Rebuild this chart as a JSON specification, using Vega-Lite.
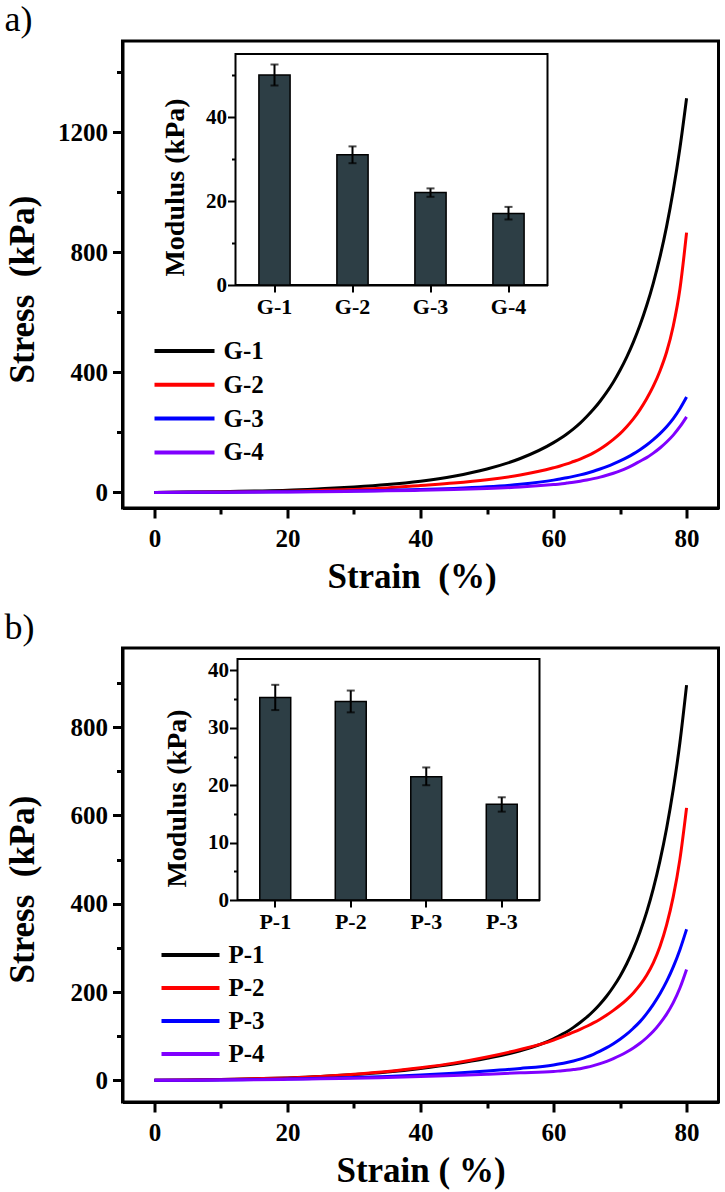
{
  "$schema": "https://vega.github.io/schema/vega-lite/v6.json",
  "background": "white",
  "padding": {"left": 2.5, "top": 0, "right": 0, "bottom": 0},
  "spacing": 12,
  "resolve": {"scale": {"color": "independent"}, "legend": {"color": "independent"}},
  "config": {
    "view": {"stroke": "black", "strokeWidth": 3},
    "axis": {"grid": false, "domainColor": "black", "domainWidth": 3, "tickColor": "black", "tickWidth": 3, "labelColor": "black", "titleColor": "black", "labelFont": "Liberation Serif", "titleFont": "Liberation Serif", "labelFontWeight": "bold", "titleFontWeight": "bold"},
    "legend": {"labelFont": "Liberation Serif", "labelFontWeight": "bold", "labelColor": "black"},
    "title": {"font": "Liberation Serif", "fontWeight": "normal", "color": "black", "fontSize": 36, "anchor": "start", "frame": "bounds"}
  },
  "datasets": {
    "curvesA": [
      {"sample": "G-1", "strain": 0, "stress": 0}, {"sample": "G-1", "strain": 5, "stress": 1}, {"sample": "G-1", "strain": 10, "stress": 2.5}, {"sample": "G-1", "strain": 15, "stress": 4.5}, {"sample": "G-1", "strain": 20, "stress": 7}, {"sample": "G-1", "strain": 25, "stress": 12}, {"sample": "G-1", "strain": 30, "stress": 18}, {"sample": "G-1", "strain": 35, "stress": 26}, {"sample": "G-1", "strain": 40, "stress": 37.5}, {"sample": "G-1", "strain": 45, "stress": 54}, {"sample": "G-1", "strain": 50, "stress": 78}, {"sample": "G-1", "strain": 55, "stress": 113}, {"sample": "G-1", "strain": 60, "stress": 166}, {"sample": "G-1", "strain": 61, "stress": 180}, {"sample": "G-1", "strain": 62, "stress": 195}, {"sample": "G-1", "strain": 63, "stress": 212}, {"sample": "G-1", "strain": 64, "stress": 231}, {"sample": "G-1", "strain": 65, "stress": 253}, {"sample": "G-1", "strain": 66, "stress": 277}, {"sample": "G-1", "strain": 67, "stress": 304}, {"sample": "G-1", "strain": 68, "stress": 334}, {"sample": "G-1", "strain": 69, "stress": 368}, {"sample": "G-1", "strain": 70, "stress": 407}, {"sample": "G-1", "strain": 71, "stress": 451}, {"sample": "G-1", "strain": 72, "stress": 501}, {"sample": "G-1", "strain": 73, "stress": 558}, {"sample": "G-1", "strain": 74, "stress": 623}, {"sample": "G-1", "strain": 75, "stress": 698}, {"sample": "G-1", "strain": 76, "stress": 785}, {"sample": "G-1", "strain": 77, "stress": 887}, {"sample": "G-1", "strain": 78, "stress": 1007}, {"sample": "G-1", "strain": 79, "stress": 1148}, {"sample": "G-1", "strain": 80, "stress": 1314},
      {"sample": "G-2", "strain": 0, "stress": 0}, {"sample": "G-2", "strain": 5, "stress": 0.5}, {"sample": "G-2", "strain": 10, "stress": 1.3}, {"sample": "G-2", "strain": 15, "stress": 2.5}, {"sample": "G-2", "strain": 20, "stress": 4}, {"sample": "G-2", "strain": 25, "stress": 6.5}, {"sample": "G-2", "strain": 30, "stress": 10}, {"sample": "G-2", "strain": 35, "stress": 15}, {"sample": "G-2", "strain": 40, "stress": 23}, {"sample": "G-2", "strain": 45, "stress": 31}, {"sample": "G-2", "strain": 50, "stress": 42}, {"sample": "G-2", "strain": 55, "stress": 58}, {"sample": "G-2", "strain": 60, "stress": 82}, {"sample": "G-2", "strain": 61, "stress": 88}, {"sample": "G-2", "strain": 62, "stress": 95}, {"sample": "G-2", "strain": 63, "stress": 103}, {"sample": "G-2", "strain": 64, "stress": 111}, {"sample": "G-2", "strain": 65, "stress": 121}, {"sample": "G-2", "strain": 66, "stress": 132}, {"sample": "G-2", "strain": 67, "stress": 145}, {"sample": "G-2", "strain": 68, "stress": 160}, {"sample": "G-2", "strain": 69, "stress": 177}, {"sample": "G-2", "strain": 70, "stress": 196}, {"sample": "G-2", "strain": 71, "stress": 219}, {"sample": "G-2", "strain": 72, "stress": 245}, {"sample": "G-2", "strain": 73, "stress": 276}, {"sample": "G-2", "strain": 74, "stress": 312}, {"sample": "G-2", "strain": 75, "stress": 354}, {"sample": "G-2", "strain": 76, "stress": 405}, {"sample": "G-2", "strain": 77, "stress": 468}, {"sample": "G-2", "strain": 78, "stress": 555}, {"sample": "G-2", "strain": 79, "stress": 678}, {"sample": "G-2", "strain": 80, "stress": 866},
      {"sample": "G-3", "strain": 0, "stress": 0}, {"sample": "G-3", "strain": 5, "stress": 0.3}, {"sample": "G-3", "strain": 10, "stress": 0.8}, {"sample": "G-3", "strain": 15, "stress": 1.4}, {"sample": "G-3", "strain": 20, "stress": 2.2}, {"sample": "G-3", "strain": 25, "stress": 3.3}, {"sample": "G-3", "strain": 30, "stress": 4.8}, {"sample": "G-3", "strain": 35, "stress": 6.8}, {"sample": "G-3", "strain": 40, "stress": 9.5}, {"sample": "G-3", "strain": 45, "stress": 13}, {"sample": "G-3", "strain": 50, "stress": 18.5}, {"sample": "G-3", "strain": 55, "stress": 27}, {"sample": "G-3", "strain": 60, "stress": 41}, {"sample": "G-3", "strain": 61, "stress": 45}, {"sample": "G-3", "strain": 62, "stress": 49}, {"sample": "G-3", "strain": 63, "stress": 53.5}, {"sample": "G-3", "strain": 64, "stress": 58.5}, {"sample": "G-3", "strain": 65, "stress": 64}, {"sample": "G-3", "strain": 66, "stress": 70.5}, {"sample": "G-3", "strain": 67, "stress": 78}, {"sample": "G-3", "strain": 68, "stress": 86}, {"sample": "G-3", "strain": 69, "stress": 95}, {"sample": "G-3", "strain": 70, "stress": 105}, {"sample": "G-3", "strain": 71, "stress": 116}, {"sample": "G-3", "strain": 72, "stress": 128.5}, {"sample": "G-3", "strain": 73, "stress": 142.5}, {"sample": "G-3", "strain": 74, "stress": 158}, {"sample": "G-3", "strain": 75, "stress": 176}, {"sample": "G-3", "strain": 76, "stress": 196}, {"sample": "G-3", "strain": 77, "stress": 219}, {"sample": "G-3", "strain": 78, "stress": 246}, {"sample": "G-3", "strain": 79, "stress": 279}, {"sample": "G-3", "strain": 80, "stress": 318},
      {"sample": "G-4", "strain": 0, "stress": 0}, {"sample": "G-4", "strain": 5, "stress": 0.2}, {"sample": "G-4", "strain": 10, "stress": 0.5}, {"sample": "G-4", "strain": 15, "stress": 1}, {"sample": "G-4", "strain": 20, "stress": 1.6}, {"sample": "G-4", "strain": 25, "stress": 2.5}, {"sample": "G-4", "strain": 30, "stress": 3.6}, {"sample": "G-4", "strain": 35, "stress": 5.1}, {"sample": "G-4", "strain": 40, "stress": 7}, {"sample": "G-4", "strain": 45, "stress": 9.5}, {"sample": "G-4", "strain": 50, "stress": 13}, {"sample": "G-4", "strain": 55, "stress": 18}, {"sample": "G-4", "strain": 60, "stress": 26}, {"sample": "G-4", "strain": 61, "stress": 28}, {"sample": "G-4", "strain": 62, "stress": 31}, {"sample": "G-4", "strain": 63, "stress": 34}, {"sample": "G-4", "strain": 64, "stress": 37.5}, {"sample": "G-4", "strain": 65, "stress": 41.5}, {"sample": "G-4", "strain": 66, "stress": 46}, {"sample": "G-4", "strain": 67, "stress": 51}, {"sample": "G-4", "strain": 68, "stress": 57}, {"sample": "G-4", "strain": 69, "stress": 64}, {"sample": "G-4", "strain": 70, "stress": 72}, {"sample": "G-4", "strain": 71, "stress": 81}, {"sample": "G-4", "strain": 72, "stress": 92}, {"sample": "G-4", "strain": 73, "stress": 104}, {"sample": "G-4", "strain": 74, "stress": 116}, {"sample": "G-4", "strain": 75, "stress": 131}, {"sample": "G-4", "strain": 76, "stress": 148}, {"sample": "G-4", "strain": 77, "stress": 168}, {"sample": "G-4", "strain": 78, "stress": 191}, {"sample": "G-4", "strain": 79, "stress": 219}, {"sample": "G-4", "strain": 80, "stress": 252}
    ],
    "curvesB": [
      {"sample": "P-1", "strain": 0, "stress": 0}, {"sample": "P-1", "strain": 5, "stress": 0.9}, {"sample": "P-1", "strain": 10, "stress": 2}, {"sample": "P-1", "strain": 15, "stress": 3.5}, {"sample": "P-1", "strain": 20, "stress": 5.5}, {"sample": "P-1", "strain": 25, "stress": 8.5}, {"sample": "P-1", "strain": 30, "stress": 13}, {"sample": "P-1", "strain": 35, "stress": 19}, {"sample": "P-1", "strain": 40, "stress": 27}, {"sample": "P-1", "strain": 45, "stress": 37}, {"sample": "P-1", "strain": 50, "stress": 50}, {"sample": "P-1", "strain": 55, "stress": 67}, {"sample": "P-1", "strain": 60, "stress": 94}, {"sample": "P-1", "strain": 61, "stress": 102}, {"sample": "P-1", "strain": 62, "stress": 110}, {"sample": "P-1", "strain": 63, "stress": 120}, {"sample": "P-1", "strain": 64, "stress": 131}, {"sample": "P-1", "strain": 65, "stress": 143}, {"sample": "P-1", "strain": 66, "stress": 157}, {"sample": "P-1", "strain": 67, "stress": 173}, {"sample": "P-1", "strain": 68, "stress": 191}, {"sample": "P-1", "strain": 69, "stress": 212}, {"sample": "P-1", "strain": 70, "stress": 236}, {"sample": "P-1", "strain": 71, "stress": 264}, {"sample": "P-1", "strain": 72, "stress": 297}, {"sample": "P-1", "strain": 73, "stress": 336}, {"sample": "P-1", "strain": 74, "stress": 381}, {"sample": "P-1", "strain": 75, "stress": 434}, {"sample": "P-1", "strain": 76, "stress": 497}, {"sample": "P-1", "strain": 77, "stress": 571}, {"sample": "P-1", "strain": 78, "stress": 659}, {"sample": "P-1", "strain": 79, "stress": 765}, {"sample": "P-1", "strain": 80, "stress": 895},
      {"sample": "P-2", "strain": 0, "stress": 0}, {"sample": "P-2", "strain": 5, "stress": 0.9}, {"sample": "P-2", "strain": 10, "stress": 2}, {"sample": "P-2", "strain": 15, "stress": 3.5}, {"sample": "P-2", "strain": 20, "stress": 5.6}, {"sample": "P-2", "strain": 25, "stress": 9}, {"sample": "P-2", "strain": 30, "stress": 14}, {"sample": "P-2", "strain": 35, "stress": 20}, {"sample": "P-2", "strain": 40, "stress": 28.5}, {"sample": "P-2", "strain": 45, "stress": 39}, {"sample": "P-2", "strain": 50, "stress": 53}, {"sample": "P-2", "strain": 55, "stress": 70}, {"sample": "P-2", "strain": 60, "stress": 91}, {"sample": "P-2", "strain": 61, "stress": 97}, {"sample": "P-2", "strain": 62, "stress": 103}, {"sample": "P-2", "strain": 63, "stress": 109}, {"sample": "P-2", "strain": 64, "stress": 115.5}, {"sample": "P-2", "strain": 65, "stress": 122.5}, {"sample": "P-2", "strain": 66, "stress": 130}, {"sample": "P-2", "strain": 67, "stress": 138.5}, {"sample": "P-2", "strain": 68, "stress": 148}, {"sample": "P-2", "strain": 69, "stress": 158.5}, {"sample": "P-2", "strain": 70, "stress": 170}, {"sample": "P-2", "strain": 71, "stress": 183}, {"sample": "P-2", "strain": 72, "stress": 198}, {"sample": "P-2", "strain": 73, "stress": 216}, {"sample": "P-2", "strain": 74, "stress": 238}, {"sample": "P-2", "strain": 75, "stress": 266}, {"sample": "P-2", "strain": 76, "stress": 303}, {"sample": "P-2", "strain": 77, "stress": 352}, {"sample": "P-2", "strain": 78, "stress": 416}, {"sample": "P-2", "strain": 79, "stress": 501}, {"sample": "P-2", "strain": 80, "stress": 617},
      {"sample": "P-3", "strain": 0, "stress": 0}, {"sample": "P-3", "strain": 5, "stress": 0.4}, {"sample": "P-3", "strain": 10, "stress": 1}, {"sample": "P-3", "strain": 15, "stress": 1.8}, {"sample": "P-3", "strain": 20, "stress": 3}, {"sample": "P-3", "strain": 25, "stress": 4.5}, {"sample": "P-3", "strain": 30, "stress": 6.5}, {"sample": "P-3", "strain": 35, "stress": 9}, {"sample": "P-3", "strain": 40, "stress": 12}, {"sample": "P-3", "strain": 45, "stress": 16}, {"sample": "P-3", "strain": 50, "stress": 21}, {"sample": "P-3", "strain": 55, "stress": 27}, {"sample": "P-3", "strain": 60, "stress": 35}, {"sample": "P-3", "strain": 61, "stress": 37.5}, {"sample": "P-3", "strain": 62, "stress": 40.5}, {"sample": "P-3", "strain": 63, "stress": 44}, {"sample": "P-3", "strain": 64, "stress": 48}, {"sample": "P-3", "strain": 65, "stress": 53}, {"sample": "P-3", "strain": 66, "stress": 59}, {"sample": "P-3", "strain": 67, "stress": 66}, {"sample": "P-3", "strain": 68, "stress": 74}, {"sample": "P-3", "strain": 69, "stress": 83}, {"sample": "P-3", "strain": 70, "stress": 93}, {"sample": "P-3", "strain": 71, "stress": 104.5}, {"sample": "P-3", "strain": 72, "stress": 118}, {"sample": "P-3", "strain": 73, "stress": 133}, {"sample": "P-3", "strain": 74, "stress": 151}, {"sample": "P-3", "strain": 75, "stress": 172}, {"sample": "P-3", "strain": 76, "stress": 196}, {"sample": "P-3", "strain": 77, "stress": 224}, {"sample": "P-3", "strain": 78, "stress": 257}, {"sample": "P-3", "strain": 79, "stress": 296}, {"sample": "P-3", "strain": 80, "stress": 342},
      {"sample": "P-4", "strain": 0, "stress": 0}, {"sample": "P-4", "strain": 5, "stress": 0.3}, {"sample": "P-4", "strain": 10, "stress": 0.8}, {"sample": "P-4", "strain": 15, "stress": 1.4}, {"sample": "P-4", "strain": 20, "stress": 2.3}, {"sample": "P-4", "strain": 25, "stress": 3.4}, {"sample": "P-4", "strain": 30, "stress": 4.8}, {"sample": "P-4", "strain": 35, "stress": 6.5}, {"sample": "P-4", "strain": 40, "stress": 8.5}, {"sample": "P-4", "strain": 45, "stress": 11}, {"sample": "P-4", "strain": 50, "stress": 14}, {"sample": "P-4", "strain": 55, "stress": 17}, {"sample": "P-4", "strain": 60, "stress": 20}, {"sample": "P-4", "strain": 61, "stress": 21.4}, {"sample": "P-4", "strain": 62, "stress": 22.8}, {"sample": "P-4", "strain": 63, "stress": 24.5}, {"sample": "P-4", "strain": 64, "stress": 26.5}, {"sample": "P-4", "strain": 65, "stress": 29.5}, {"sample": "P-4", "strain": 66, "stress": 33.3}, {"sample": "P-4", "strain": 67, "stress": 37.8}, {"sample": "P-4", "strain": 68, "stress": 43}, {"sample": "P-4", "strain": 69, "stress": 49.4}, {"sample": "P-4", "strain": 70, "stress": 56.3}, {"sample": "P-4", "strain": 71, "stress": 64.2}, {"sample": "P-4", "strain": 72, "stress": 73.4}, {"sample": "P-4", "strain": 73, "stress": 84}, {"sample": "P-4", "strain": 74, "stress": 96.5}, {"sample": "P-4", "strain": 75, "stress": 111}, {"sample": "P-4", "strain": 76, "stress": 129}, {"sample": "P-4", "strain": 77, "stress": 150}, {"sample": "P-4", "strain": 78, "stress": 176}, {"sample": "P-4", "strain": 79, "stress": 209}, {"sample": "P-4", "strain": 80, "stress": 251}
    ],
    "modA": [
      {"sample": "G-1", "modulus": 50, "lo": 47.5, "hi": 52.5},
      {"sample": "G-2", "modulus": 31, "lo": 29, "hi": 33},
      {"sample": "G-3", "modulus": 22, "lo": 21, "hi": 23},
      {"sample": "G-4", "modulus": 17, "lo": 15.6, "hi": 18.6}
    ],
    "modB": [
      {"sample": "P-1", "modulus": 35.3, "lo": 33.1, "hi": 37.5},
      {"sample": "P-2", "modulus": 34.6, "lo": 32.7, "hi": 36.5},
      {"sample": "P-3", "modulus": 21.5, "lo": 20, "hi": 23.1},
      {"sample": "P-4", "modulus": 16.7, "lo": 15.4, "hi": 17.9}
    ]
  },
  "vconcat": [
    {
      "title": {"text": "a)", "offset": 2, "dx": -1},
      "width": 596,
      "height": 467,
      "resolve": {"scale": {"x": "independent", "y": "independent"}},
      "layer": [
        {
          "data": {"name": "curvesA"},
          "mark": {"type": "line", "strokeWidth": 3, "interpolate": "monotone"},
          "encoding": {
            "x": {"field": "strain", "type": "quantitative", "scale": {"domain": [-4.8, 84.8], "nice": false, "zero": false},
              "axis": {"orient": "bottom", "values": [0, 10, 20, 30, 40, 50, 60, 70, 80], "labelExpr": "datum.value % 20 === 0 ? datum.label : ''", "tickSize": {"condition": {"test": "datum.value % 20 === 0", "value": 10}, "value": 6}, "labelFontSize": 25, "labelPadding": 8, "title": "Strain \u00a0(%)", "titleFontSize": 35, "titlePadding": 8, "titleX": 289}},
            "y": {"field": "stress", "type": "quantitative", "scale": {"domain": [-52, 1505], "nice": false, "zero": false},
              "axis": {"orient": "left", "values": [0, 200, 400, 600, 800, 1000, 1200, 1400], "format": "d", "labelExpr": "datum.value % 400 === 0 ? datum.label : ''", "tickSize": {"condition": {"test": "datum.value % 400 === 0", "value": 10}, "value": 6}, "labelFontSize": 25, "labelPadding": 5, "title": "Stress \u00a0(kPa)", "titleFontSize": 35, "titleX": -82, "titleY": 248}},
            "color": {"field": "sample", "type": "nominal", "scale": {"domain": ["G-1", "G-2", "G-3", "G-4"], "range": ["#000000", "#ff0000", "#0000ff", "#8000ff"]},
              "legend": {"orient": "none", "legendX": 30, "legendY": 298, "title": null, "symbolType": "stroke", "symbolSize": 3600, "symbolStrokeWidth": 4, "labelFontSize": 25, "labelOffset": 7, "clipHeight": 24, "rowPadding": 8.8, "padding": 0}}
          }
        },
        {
          "data": {"values": [{}]},
          "mark": {"type": "rect", "fill": "white", "stroke": "black", "strokeWidth": 2},
          "encoding": {
            "x": {"datum": 0, "type": "quantitative", "scale": {"domain": [0, 1], "range": [113, 425], "nice": false}, "axis": null},
            "x2": {"datum": 1},
            "y": {"datum": 0, "type": "quantitative", "scale": {"domain": [0, 1], "range": [244, 13], "nice": false}, "axis": null},
            "y2": {"datum": 1}
          }
        },
        {
          "data": {"name": "modA"},
          "layer": [
            {
              "mark": {"type": "bar", "fill": "#2d3e45", "stroke": "black", "strokeWidth": 1.5, "width": {"band": 0.4}},
              "encoding": {
                "x": {"field": "sample", "type": "nominal", "scale": {"type": "band", "range": [113, 425], "paddingInner": 0, "paddingOuter": 0},
                  "axis": {"orient": "bottom", "offset": -223, "title": null, "labelAngle": 0, "labelFontSize": 22, "labelPadding": 4, "tickSize": 7, "tickWidth": 2, "domainWidth": 2}},
                "y": {"field": "modulus", "type": "quantitative", "scale": {"domain": [0, 55], "range": [244, 13], "nice": false},
                  "axis": {"orient": "left", "offset": -113, "values": [0, 10, 20, 30, 40, 50], "labelExpr": "datum.value % 20 === 0 ? datum.label : ''", "tickSize": {"condition": {"test": "datum.value % 20 === 0", "value": 8}, "value": 4}, "tickWidth": 2, "domainWidth": 2, "labelFontSize": 21, "labelPadding": 1, "title": "Modulus (kPa)", "titleFontSize": 28, "titlePadding": 16, "titleY": 146}}
              }
            },
            {
              "mark": {"type": "rule", "strokeWidth": 2, "color": "black"},
              "encoding": {
                "x": {"field": "sample", "type": "nominal", "scale": {"type": "band", "range": [113, 425], "paddingInner": 0, "paddingOuter": 0}},
                "y": {"field": "lo", "type": "quantitative", "scale": {"domain": [0, 55], "range": [244, 13], "nice": false}},
                "y2": {"field": "hi"}
              }
            },
            {
              "mark": {"type": "tick", "size": 8, "thickness": 2, "color": "black"},
              "encoding": {
                "x": {"field": "sample", "type": "nominal", "scale": {"type": "band", "range": [113, 425], "paddingInner": 0, "paddingOuter": 0}},
                "y": {"field": "lo", "type": "quantitative", "scale": {"domain": [0, 55], "range": [244, 13], "nice": false}}
              }
            },
            {
              "mark": {"type": "tick", "size": 8, "thickness": 2, "color": "black"},
              "encoding": {
                "x": {"field": "sample", "type": "nominal", "scale": {"type": "band", "range": [113, 425], "paddingInner": 0, "paddingOuter": 0}},
                "y": {"field": "hi", "type": "quantitative", "scale": {"domain": [0, 55], "range": [244, 13], "nice": false}}
              }
            }
          ]
        }
      ]
    },
    {
      "title": {"text": "b)", "offset": 1, "dx": -1},
      "width": 596,
      "height": 454,
      "resolve": {"scale": {"x": "independent", "y": "independent"}},
      "layer": [
        {
          "data": {"name": "curvesB"},
          "mark": {"type": "line", "strokeWidth": 3, "interpolate": "monotone"},
          "encoding": {
            "x": {"field": "strain", "type": "quantitative", "scale": {"domain": [-4.8, 84.8], "nice": false, "zero": false},
              "axis": {"orient": "bottom", "values": [0, 10, 20, 30, 40, 50, 60, 70, 80], "labelExpr": "datum.value % 20 === 0 ? datum.label : ''", "tickSize": {"condition": {"test": "datum.value % 20 === 0", "value": 10}, "value": 6}, "labelFontSize": 25, "labelPadding": 8, "title": "Strain ( %)", "titleFontSize": 35, "titlePadding": 8}},
            "y": {"field": "stress", "type": "quantitative", "scale": {"domain": [-49, 979], "nice": false, "zero": false},
              "axis": {"orient": "left", "values": [0, 100, 200, 300, 400, 500, 600, 700, 800, 900], "format": "d", "labelExpr": "datum.value % 200 === 0 ? datum.label : ''", "tickSize": {"condition": {"test": "datum.value % 200 === 0", "value": 10}, "value": 6}, "labelFontSize": 25, "labelPadding": 5, "title": "Stress \u00a0(kPa)", "titleFontSize": 35, "titleX": -82, "titleY": 241}},
            "color": {"field": "sample", "type": "nominal", "scale": {"domain": ["P-1", "P-2", "P-3", "P-4"], "range": ["#000000", "#ff0000", "#0000ff", "#8000ff"]},
              "legend": {"orient": "none", "legendX": 37, "legendY": 295, "title": null, "symbolType": "stroke", "symbolSize": 3364, "symbolStrokeWidth": 4, "labelFontSize": 25, "labelOffset": 7, "clipHeight": 24, "rowPadding": 8, "padding": 0}}
          }
        },
        {
          "data": {"values": [{}]},
          "mark": {"type": "rect", "fill": "white", "stroke": "black", "strokeWidth": 2},
          "encoding": {
            "x": {"datum": 0, "type": "quantitative", "scale": {"domain": [0, 1], "range": [115, 417], "nice": false}, "axis": null},
            "x2": {"datum": 1},
            "y": {"datum": 0, "type": "quantitative", "scale": {"domain": [0, 1], "range": [252, 11], "nice": false}, "axis": null},
            "y2": {"datum": 1}
          }
        },
        {
          "data": {"name": "modB"},
          "layer": [
            {
              "mark": {"type": "bar", "fill": "#2d3e45", "stroke": "black", "strokeWidth": 1.5, "width": {"band": 0.41}},
              "encoding": {
                "x": {"field": "sample", "type": "nominal", "scale": {"type": "band", "range": [115, 417], "paddingInner": 0, "paddingOuter": 0},
                  "axis": {"orient": "bottom", "offset": -202, "title": null, "labelAngle": 0, "labelFontSize": 22, "labelPadding": 4, "tickSize": 7, "tickWidth": 2, "domainWidth": 2, "labelExpr": "datum.value === 'P-4' ? 'P-3' : datum.label"}},
                "y": {"field": "modulus", "type": "quantitative", "scale": {"domain": [0, 42], "range": [252, 11], "nice": false},
                  "axis": {"orient": "left", "offset": -115, "values": [0, 5, 10, 15, 20, 25, 30, 35, 40], "labelExpr": "datum.value % 10 === 0 ? datum.label : ''", "tickSize": {"condition": {"test": "datum.value % 10 === 0", "value": 8}, "value": 4}, "tickWidth": 2, "domainWidth": 2, "labelFontSize": 21, "labelPadding": 1, "title": "Modulus (kPa)", "titleFontSize": 28, "titlePadding": 16, "titleY": 150}}
              }
            },
            {
              "mark": {"type": "rule", "strokeWidth": 2, "color": "black"},
              "encoding": {
                "x": {"field": "sample", "type": "nominal", "scale": {"type": "band", "range": [115, 417], "paddingInner": 0, "paddingOuter": 0}},
                "y": {"field": "lo", "type": "quantitative", "scale": {"domain": [0, 42], "range": [252, 11], "nice": false}},
                "y2": {"field": "hi"}
              }
            },
            {
              "mark": {"type": "tick", "size": 8, "thickness": 2, "color": "black"},
              "encoding": {
                "x": {"field": "sample", "type": "nominal", "scale": {"type": "band", "range": [115, 417], "paddingInner": 0, "paddingOuter": 0}},
                "y": {"field": "lo", "type": "quantitative", "scale": {"domain": [0, 42], "range": [252, 11], "nice": false}}
              }
            },
            {
              "mark": {"type": "tick", "size": 8, "thickness": 2, "color": "black"},
              "encoding": {
                "x": {"field": "sample", "type": "nominal", "scale": {"type": "band", "range": [115, 417], "paddingInner": 0, "paddingOuter": 0}},
                "y": {"field": "hi", "type": "quantitative", "scale": {"domain": [0, 42], "range": [252, 11], "nice": false}}
              }
            }
          ]
        }
      ]
    }
  ]
}
